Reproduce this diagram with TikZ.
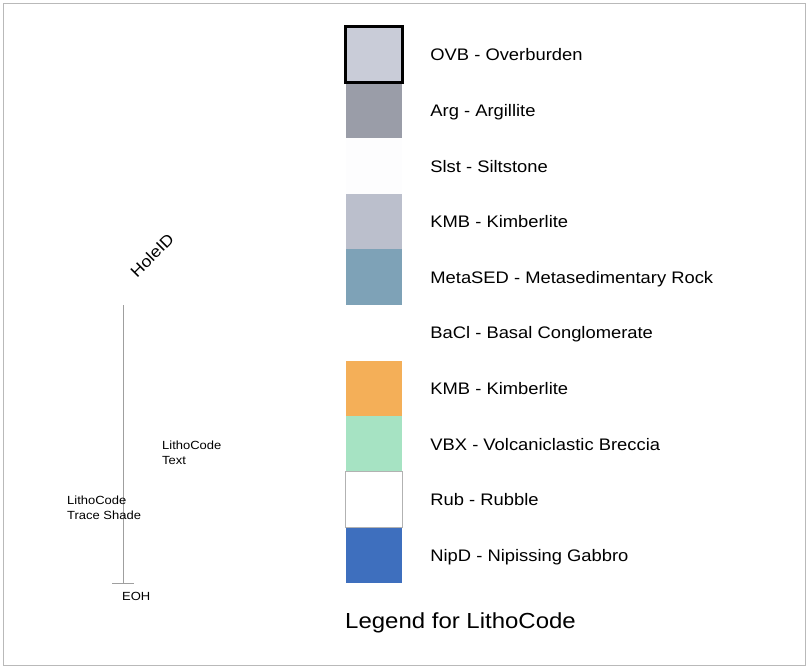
\documentclass[tikz,border=0pt]{standalone}
\usepackage{fontspec}
\setmainfont[FakeStretch=1.1]{Liberation Sans}
\usepackage{tikz}
\usetikzlibrary{positioning}
\definecolor{ovbgrey}{HTML}{C9CCD8}
\definecolor{arggrey}{HTML}{9A9DA8}
\definecolor{slstwhite}{HTML}{FDFDFE}
\definecolor{kmbgrey}{HTML}{BBBFCC}
\definecolor{metablue}{HTML}{7EA2B7}
\definecolor{baclwhite}{HTML}{FFFFFF}
\definecolor{kmborange}{HTML}{F4AF58}
\definecolor{vbxgreen}{HTML}{A6E3C3}
\definecolor{rubwhite}{HTML}{FFFFFF}
\definecolor{nipdblue}{HTML}{3E6FBE}

\begin{document}
\begin{tikzpicture}[
    x=1pt, y=-1pt,
    swatch/.style={rectangle, minimum width=56pt, minimum height=55.6pt, inner sep=0pt},
    legtext/.style={inner sep=0pt, anchor=west, text height=12pt, text depth=0pt, font=\fontsize{16.7}{20}\selectfont},
    smalltext/.style={inner sep=0pt, align=left, font=\fontsize{11.8}{15}\selectfont},
    holeline/.style={draw=gray!75, line width=0.8pt}
]
\useasboundingbox (0,0) rectangle (809,670);
\draw[gray!55, line width=1pt] (3,3) rectangle (805,665);

% legend swatches
\foreach \i/\col/\txt in {1/ovbgrey/OVB - Overburden, 2/arggrey/Arg - Argillite,
    3/slstwhite/Slst - Siltstone, 4/kmbgrey/KMB - Kimberlite,
    5/metablue/MetaSED - Metasedimentary Rock, 6/baclwhite/BaCl - Basal Conglomerate,
    7/kmborange/KMB - Kimberlite, 8/vbxgreen/VBX - Volcaniclastic Breccia,
    9/rubwhite/Rub - Rubble, 10/nipdblue/NipD - Nipissing Gabbro}{
    \node[swatch, fill=\col] (sw\i) at (374, {27+55.6*(\i-0.5)}) {};
    \node[legtext, right=28pt of sw\i] (lbl\i) {\txt};
}
\draw[line width=3pt] (sw1.north west) rectangle (sw1.south east);
\draw[gray!60, line width=0.8pt] (sw9.north west) rectangle (sw9.south east);

\node[inner sep=0pt, anchor=base west, font=\fontsize{21.8}{26}\selectfont] (title) at (345,628) {Legend for LithoCode};

% hole trace
\coordinate (collar) at (123,305);
\coordinate (eoh) at (123,583);
\draw[holeline] (collar) -- (eoh);
\draw[holeline] ([xshift=-11pt]eoh) -- ([xshift=11pt]eoh);
\node[inner sep=0pt, rotate=45, font=\fontsize{16}{19}\selectfont] (holeid) at (152,255) {HoleID};
\node[smalltext, anchor=base west] (eohlabel) at (122,600) {EOH};
\node[smalltext, anchor=north west] (textlabel) at (162,441) {LithoCode\\Text};
\node[smalltext, anchor=north west] (shadelabel) at (67,496) {LithoCode\\Trace Shade};
\end{tikzpicture}
\end{document}
